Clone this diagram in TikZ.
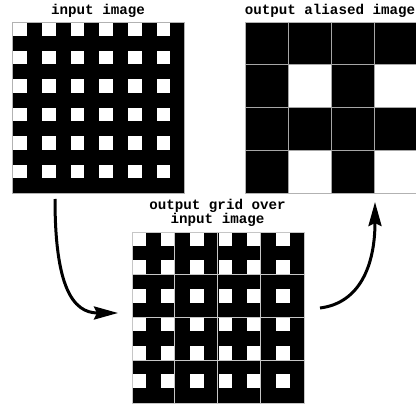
\documentclass[tikz,border=0pt]{standalone}
\usepackage{fontspec}
\setmonofont{Liberation Mono}
\usetikzlibrary{arrows.meta}
\tikzset{
  lbl/.style={font=\ttfamily\bfseries\fontsize{14.2}{11.6}\selectfont, anchor=base, inner sep=0pt, align=center},
  imgframe/.style={draw=gray!60, line width=0.6pt, inner sep=0pt, anchor=north west},
  cellline/.style={draw=gray!45, line width=0.9pt},
  flow/.style={line width=3pt, -{Stealth[length=24pt,width=13pt,inset=3pt]}},
}
\newcommand{\inpattern}[2]{%
  \fill[black] (#1,#2) rectangle ++(172,171);
  \foreach \i in {0,...,5}{\foreach \j in {0,...,5}{
    \fill[white] ({#1+\i*28.67+0.9},{#2+\j*28.5+0.2}) rectangle ++(13.8,13.8);}}
}
\begin{document}
\begin{tikzpicture}[x=1pt,y=-1pt]
\useasboundingbox (0,0) rectangle (416,404);
% input image
\inpattern{12.3}{22}
\node[imgframe, minimum width=172pt, minimum height=171pt] (in) at (12.3,22) {};
\node[lbl] (inlbl) at (98,15) {input image};
% output aliased image
\fill[black] (245,21.7) rectangle (416,193);
\foreach \i in {1,3}{\foreach \j in {1,3}{
  \fill[white] ({245+\i*43},{21.7+\j*42.8}) rectangle ++(43,42.8);}}
\foreach \k in {1,2,3}{
  \draw[cellline, draw=gray!70, line width=0.5pt] ({245+\k*43},21.7) -- ({245+\k*43},193);
  \draw[cellline, draw=gray!70, line width=0.5pt] (245,{21.7+\k*42.8}) -- (416,{21.7+\k*42.8});}
\node[imgframe, minimum width=171pt, minimum height=171.3pt] (out) at (245,21.7) {};
\node[lbl] (outlbl) at (330,15) {output aliased image};
% grid over input
\inpattern{131.7}{231.7}
\foreach \k in {1,2,3}{
  \draw[cellline] ({131.7+\k*43},231.7) -- ({131.7+\k*43},402.7);
  \draw[cellline] (131.7,{231.7+\k*42.75}) -- (303.7,{231.7+\k*42.75});}
\node[imgframe, draw=gray!45, line width=0.9pt, minimum width=172pt, minimum height=171pt] (grid) at (131.7,231.7) {};
\node[lbl] (gridlbl) at (217.5,223.3) {output grid over\\input image};
% arrows
\coordinate (a1s) at (55,199);
\coordinate (a1e) at (118,313);
\coordinate (a2s) at (320,308);
\coordinate (a2e) at (375,202);
\draw[flow] (a1s) .. controls (55,285) and (72,313) .. (a1e);
\draw[flow] (a2s) .. controls (360,303) and (375,265) .. (a2e);
\end{tikzpicture}
\end{document}
